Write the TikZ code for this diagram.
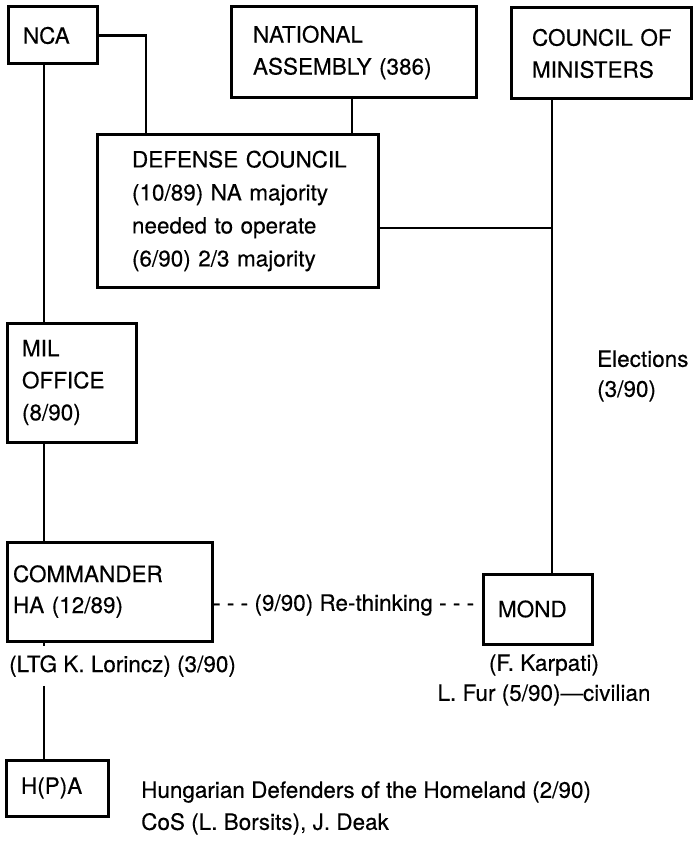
\documentclass[tikz,border=0pt]{standalone}
\usepackage{fontspec}
\setmainfont{TeX Gyre Heros}[UprightFeatures={FakeBold=0.3}]
\begin{document}
\begin{tikzpicture}[x=1pt,y=-1pt,
  box/.style={draw, rectangle, line width=3pt, anchor=north west, outer sep=0pt,
    inner ysep=0pt, align=left, font=\fontsize{22.5}{32}\selectfont},
  lbl/.style={inner sep=0pt, font=\fontsize{22.5}{32}\selectfont},
  link/.style={line width=2.8pt}]
\useasboundingbox (0,0) rectangle (693,842);
% boxes
\node[box, text width=59pt, inner xsep=15pt, minimum height=57pt] (nca) at (8,7) {NCA};
\node[box, text width=201pt, inner xsep=22pt, minimum height=91pt] (na) at (231,7) {\mbox{NATIONAL}\\\mbox{ASSEMBLY (386)}};
\node[box, text width=138pt, inner xsep=21pt, minimum height=91pt] (com) at (511,8) {\mbox{COUNCIL OF}\\\mbox{MINISTERS}};
\node[box, text width=211pt, inner xsep=35pt, minimum height=152pt, font=\fontsize{22.5}{33}\selectfont] (dc) at (97,135) {\mbox{DEFENSE COUNCIL}\\\mbox{(10/89) NA majority}\\\mbox{needed to operate}\\\mbox{(6/90) 2/3 majority}};
\node[box, text width=99pt, inner xsep=15pt, minimum height=119pt] (mil) at (7,323) {MIL\\OFFICE\\(8/90)};
\node[box, text width=193pt, inner xsep=6pt, minimum height=99pt, font=\fontsize{22.5}{31}\selectfont] (cmd) at (7,542) {\mbox{COMMANDER}\\\mbox{HA (12/89)}};
\node[box, text width=79pt, inner xsep=15pt, minimum height=70pt] (mond) at (483,574) {MOND};
\node[box, text width=72pt, inner xsep=15pt, minimum height=56pt] (hpa) at (6,760) {H(P)A};
% labels
\node[lbl, anchor=west, inner ysep=9pt] (lor) at (9,666) {(LTG K.~Lorincz) (3/90)};
\node[lbl, anchor=west] (rt) at (213,605) {- - - (9/90) Re-thinking - - -};
\node[lbl, anchor=west, align=left, font=\fontsize{22.5}{30}\selectfont] (elec) at (597,376) {Elections\\(3/90)};
\node[lbl, align=center, font=\fontsize{22.5}{30}\selectfont] (kar) at (544,680) {(F.~Karpati)\\L.~Fur (5/90)—civilian};
\node[lbl, anchor=west, align=left] (hdh) at (141,808) {Hungarian Defenders of the Homeland (2/90)\\CoS (L.~Borsits), J.~Deak};
% connector coordinates
\coordinate (spine) at (44,0);
\coordinate (ncaturn) at (146,0);
\coordinate (naline) at (352,0);
\coordinate (cmline) at (552,0);
\coordinate (dcy) at (0,228);
% connectors
\draw[link] (nca.south -| spine) -- (mil.north -| spine);
\draw[link] (mil.south -| spine) -- (cmd.north -| spine);
\draw[link] (cmd.south -| spine) -- (lor.north -| spine);
\draw[link] (lor.south -| spine) -- (hpa.north -| spine);
\draw[link] (nca.east) -| (dc.north -| ncaturn);
\draw[link] (na.south -| naline) -- (dc.north -| naline);
\draw[link] (com.south -| cmline) -- (mond.north -| cmline);
\draw[link] (dc.east |- dcy) -- (cmline |- dcy);
\end{tikzpicture}
\end{document}
